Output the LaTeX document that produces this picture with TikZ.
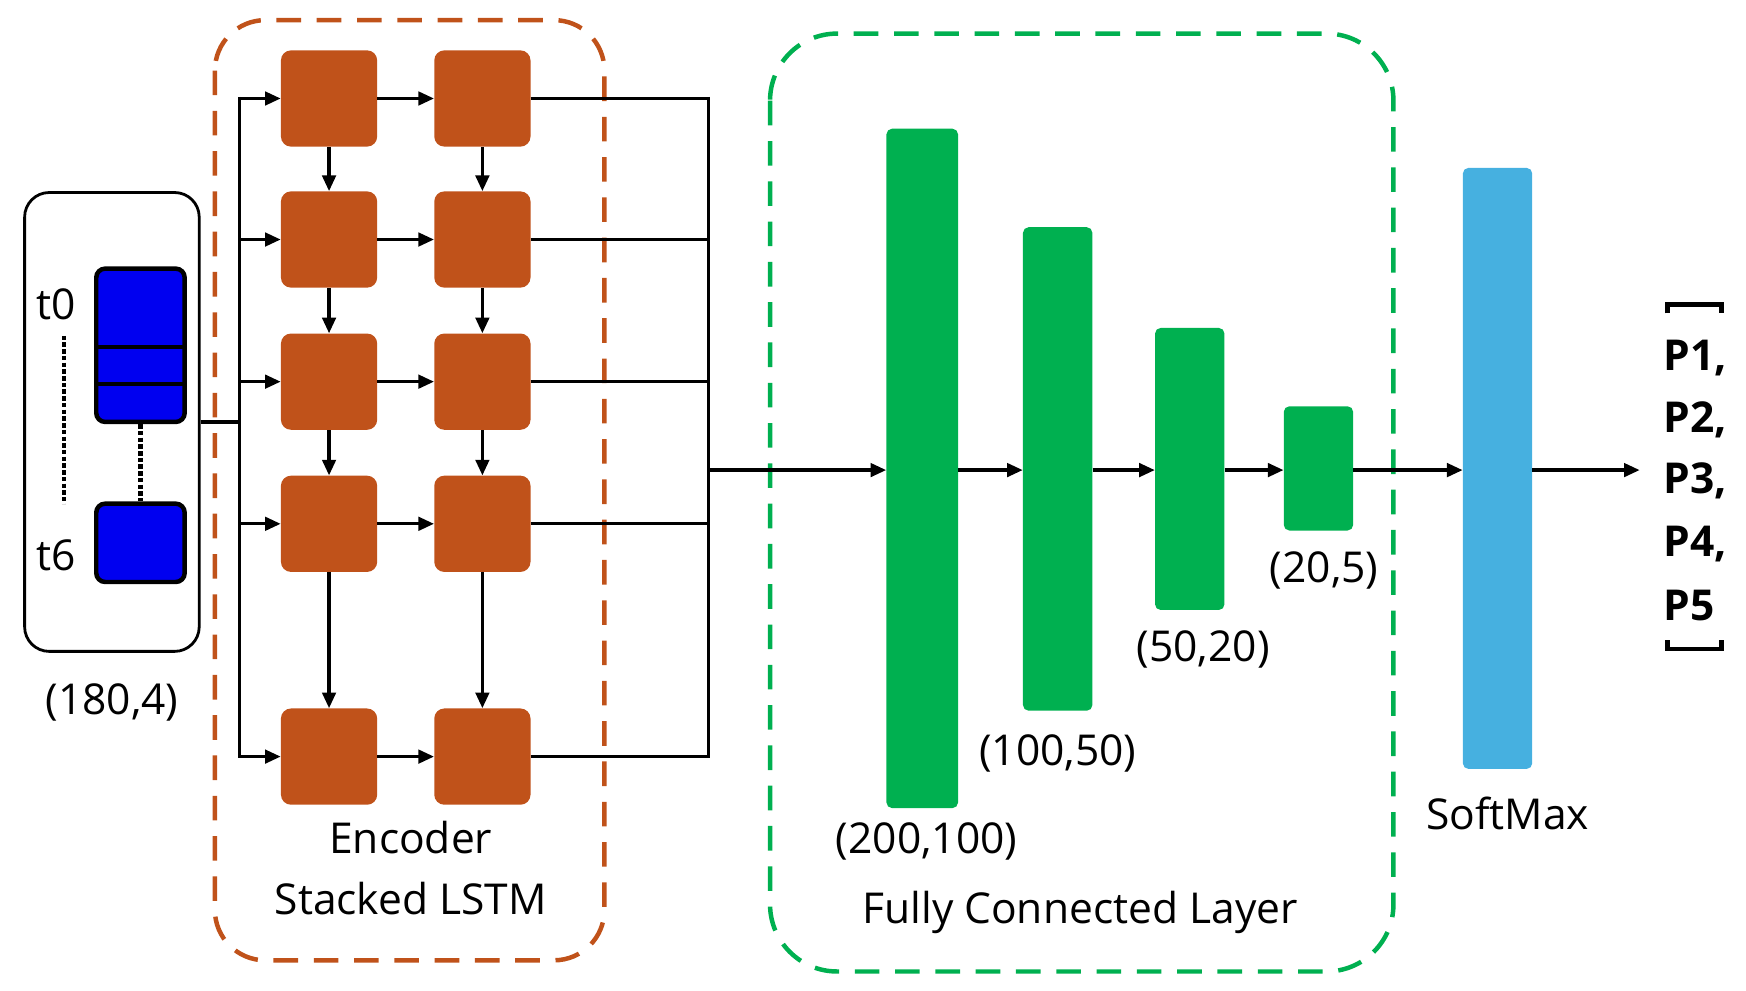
\documentclass[tikz,border=0pt]{standalone}
\usepackage{fontspec}
\setmainfont{Open Sans}
\usetikzlibrary{arrows.meta}
\definecolor{lstm}{HTML}{C0521A}
\definecolor{fc}{HTML}{00B050}
\definecolor{sm}{HTML}{46B0E0}
\definecolor{inb}{HTML}{0000F0}
\begin{document}
\begin{tikzpicture}[x=1pt,y=-1pt,
  cell/.style={fill=lstm,rounded corners=9pt,minimum width=86pt,minimum height=86pt,inner sep=0},
  bar/.style={rounded corners=5pt,inner sep=0},
  arr/.style={line width=3pt,-{Triangle[length=14pt,width=12pt]}},
  ln/.style={line width=3pt},
  txt/.style={font=\fontsize{38}{44}\selectfont,inner sep=0},
  ptxt/.style={font=\fontsize{38}{48}\selectfont\bfseries,inner sep=0}]
\useasboundingbox (0,0) rectangle (1560,885);
% dashed groups
\draw[lstm,line width=4pt,dash pattern=on 22pt off 14pt,rounded corners=45pt] (192,18) rectangle (540,858);
\draw[fc,line width=4pt,dash pattern=on 22pt off 14pt,rounded corners=60pt] (688,30) rectangle (1245,868);
% input
\node[draw,line width=2.5pt,rounded corners=22pt,minimum width=156pt,minimum height=410pt] (inp) at (100,377) {};
\node[draw,line width=4pt,fill=inb,rounded corners=8pt,minimum width=79pt,minimum height=137pt,inner sep=0] (blk) at (125.5,308.5) {};
\draw[line width=4pt] (86,310)--(165,310) (86,343)--(165,343);
\node[draw,line width=4pt,fill=inb,rounded corners=8pt,minimum width=79pt,minimum height=70pt,inner sep=0] (b6) at (125.5,485) {};
\draw[line width=4pt,dotted] (blk.south)--(b6.north);
\draw[line width=4pt,dotted] (57,300)--(57,450);
\node[txt] (t0) at (50,272) {t0};
\node[txt] (t6) at (50,496) {t6};
\node[txt] (lin) at (100,628) {(180,4)};
% cells
\foreach \r/\y in {1/88,2/214,3/341,4/468,5/676}{
  \node[cell] (a\r) at (294,\y) {};
  \node[cell] (b\r) at (431,\y) {};
  \draw[arr] (a\r) -- (b\r);
  \draw[arr] (214,\y) -- (a\r.west);
  \draw[ln] (b\r.east) -- (633,\y);
}
\foreach \r/\s in {1/2,2/3,3/4,4/5}{
  \draw[arr] (a\r) -- (a\s);
  \draw[arr] (b\r) -- (b\s);
}
\draw[ln] (inp.east |- 0,377) -- (214,377);
\draw[ln] (214,86.5) -- (214,677.5);
\draw[ln] (633,86.5) -- (633,677.5);
\coordinate (m) at (633,420);
% fc bars
\node[bar,fill=fc,minimum width=64pt,minimum height=607pt] (f1) at (824,418.5) {};
\node[bar,fill=fc,minimum width=62pt,minimum height=432pt] (f2) at (945,419) {};
\node[bar,fill=fc,minimum width=62pt,minimum height=252pt] (f3) at (1063,419) {};
\node[bar,fill=fc,minimum width=62pt,minimum height=111pt] (f4) at (1178,418.5) {};
\node[bar,fill=sm,minimum width=62pt,minimum height=537pt] (s) at (1338,418.5) {};
\coordinate (out) at (1465,420);
\draw[arr] (m) -- (f1.west |- m);
\draw[arr] (f1.east |- m) -- (f2.west |- m);
\draw[arr] (f2.east |- m) -- (f3.west |- m);
\draw[arr] (f3.east |- m) -- (f4.west |- m);
\draw[arr] (f4.east |- m) -- (s.west |- m);
\draw[arr] (s.east |- m) -- (out);
% labels
\node[txt] (l1) at (828,752) {(200,100)};
\node[txt] (l2) at (945,673) {(100,50)};
\node[txt] (l3) at (1075,580) {(50,20)};
\node[txt] (l4) at (1183,510) {(20,5)};
\node[txt] (lsm) at (1347,727) {SoftMax};
\node[txt] (lfc) at (965,815) {Fully Connected Layer};
\node[txt] (le1) at (367,748) {Encoder};
\node[txt] (le2) at (367,803) {Stacked LSTM};
% output vector
\draw[line width=4pt] (1490,280)--(1490,272)--(1538,272)--(1538,280);
\draw[line width=4pt] (1490,572)--(1490,580)--(1538,580)--(1538,572);
\node[ptxt,anchor=west] (p1) at (1486,320) {P1,};
\node[ptxt,anchor=west] (p2) at (1486,375) {P2,};
\node[ptxt,anchor=west] (p3) at (1486,430) {P3,};
\node[ptxt,anchor=west] (p4) at (1486,486) {P4,};
\node[ptxt,anchor=west] (p5) at (1486,541) {P5};
\end{tikzpicture}
\end{document}
